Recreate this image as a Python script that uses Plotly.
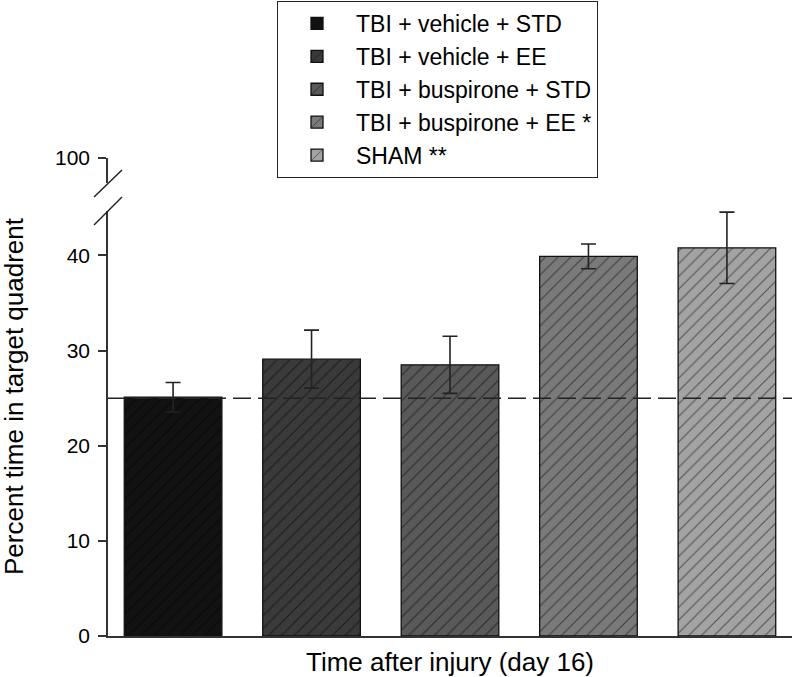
import plotly.graph_objects as go

groups = ["TBI + vehicle + STD", "TBI + vehicle + EE", "TBI + buspirone + STD",
          "TBI + buspirone + EE *", "SHAM **"]
means = [25.1, 29.1, 28.5, 39.9, 40.8]
sems = [1.55, 3.05, 3.0, 1.3, 3.75]
colors = ["#121212", "#3a3a3a", "#595959", "#7a7a7a", "#a3a3a3"]
chance_level = 25
y_ticks_low = [0, 10, 20, 30, 40]
y_ticks_high = [100]

FONT = "Liberation Sans, Arial, sans-serif"
AX = "#333333"

fig = go.Figure()
for g, m, s, c in zip(groups, means, sems, colors):
    fig.add_trace(go.Bar(
        x=[g], y=[m], name=g, width=0.705,
        marker=dict(color=c, line=dict(color="#111111", width=1.3),
                    pattern=dict(shape="/", fgcolor="#000000", bgcolor=c,
                                 size=9, solidity=0.12, fillmode="overlay")),
        error_y=dict(type="data", array=[s], visible=True,
                     color="#222222", thickness=1.6, width=7.5),
    ))

# invisible trace to create the upper axis segment
fig.add_trace(go.Scatter(x=[groups[0]], y=[None], yaxis="y2", showlegend=False,
                         hoverinfo="skip", mode="markers"))

low_top = (636 - 210.7) / 478
high_bot = (636 - 182.7) / 478

fig.update_layout(
    width=792, height=677,
    margin=dict(l=108, r=0, t=158, b=41),
    plot_bgcolor="white", paper_bgcolor="white",
    barmode="overlay",
    font=dict(family=FONT, size=21, color="#000000"),
    xaxis=dict(type="category", categoryorder="array", categoryarray=groups,
               range=[-0.47, 4.47], showticklabels=False, ticks="",
               showline=True, linecolor=AX, linewidth=1.5, showgrid=False,
               zeroline=False, anchor="y"),
    yaxis=dict(domain=[0, low_top], range=[0, 44.7], tickvals=y_ticks_low,
               ticks="outside", ticklen=8, tickwidth=1.5, tickcolor=AX,
               showline=True, linecolor=AX, linewidth=1.5, showgrid=False,
               zeroline=False, ticklabelstandoff=4,
               tickfont=dict(size=21, family=FONT)),
    yaxis2=dict(domain=[high_bot, 1], range=[97.4, 100], tickvals=y_ticks_high,
                ticks="outside", ticklen=8, tickwidth=1.5, tickcolor=AX,
                showline=True, linecolor=AX, linewidth=1.5, showgrid=False,
                zeroline=False, anchor="x", ticklabelstandoff=4,
                tickfont=dict(size=21, family=FONT)),
    legend=dict(x=(277 - 108) / 684, xanchor="left", y=(636 - 1) / 478, yanchor="top",
                bordercolor="#222222", borderwidth=1, bgcolor="white",
                font=dict(size=23, family=FONT), itemwidth=68,
                traceorder="normal"),
    showlegend=True,
)

# chance line
fig.add_shape(type="line", xref="paper", x0=0, x1=1, yref="y", y0=chance_level, y1=chance_level,
              line=dict(color="#222222", width=1.5, dash="18px,7px"), layer="above")

# axis break marks
def px(xp, yp):
    return (xp - 108) / 684, (636 - yp) / 478

for (a, b) in [((94, 197), (122, 170)), ((94, 225), (122, 197))]:
    x0, y0 = px(*a)
    x1, y1 = px(*b)
    fig.add_shape(type="line", xref="paper", yref="paper", x0=x0, y0=y0, x1=x1, y1=y1,
                  line=dict(color="#222222", width=1.5))

fig.add_annotation(text="Time after injury (day 16)", xref="paper", yref="paper",
                   x=0.5, y=(636 - 645) / 478, xanchor="center", yanchor="top",
                   showarrow=False, font=dict(size=26, family=FONT))
fig.add_annotation(text="Percent time in target quadrent", xref="paper", yref="paper",
                   x=(14 - 108) / 684, y=(636 - 396) / 478, xanchor="center", yanchor="middle",
                   textangle=-90, showarrow=False, font=dict(size=26, family=FONT))

fig.write_html("out.html", config={"displayModeBar": False},
               post_script="document.body.style.margin='0';document.body.style.overflow='hidden';")
